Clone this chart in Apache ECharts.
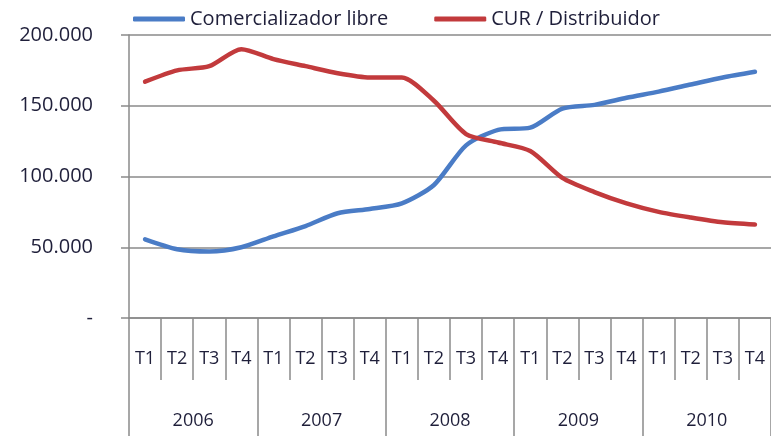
<!DOCTYPE html>
<html>
<head>
<meta charset="utf-8">
<script src="https://cdn.jsdelivr.net/npm/echarts@6/dist/echarts.min.js"></script>
<style>
  html, body { margin: 0; padding: 0; background: #fff; }
  #chart { width: 771px; height: 436px; }
</style>
</head>
<body>
<div id="chart"></div>
<script>
const years = ["2006", "2007", "2008", "2009", "2010"];
const quarters = ["T1", "T2", "T3", "T4"];
const categories = years.flatMap(y => quarters.map(q => q + " " + y));

const comercializador = [
  55600, 48600, 47000, 50000,
  57700, 65000, 74000, 77000,
  81000, 94000, 122000, 133000,
  134500, 148000, 150600, 155600,
  160000, 165000, 170000, 174000
];
const curDistribuidor = [
  167000, 175000, 178000, 190000,
  183000, 178000, 173000, 170000,
  170000, 153500, 130000, 124000,
  118000, 99000, 89000, 81000,
  75000, 71000, 67600, 66000
];

const FONT = "Open Sans";
const TEXT = "#1f1f3a";
const GRIDLINE = "#8a8a8a";

const chart = echarts.init(document.getElementById("chart"));

chart.setOption({
  animation: false,
  textStyle: { fontFamily: FONT },
  legend: {
    left: 128,
    top: 4,
    itemWidth: 52,
    itemHeight: 5,
    itemGap: 46,
    icon: "roundRect",
    textStyle: { fontFamily: FONT, fontSize: 20, color: TEXT },
    data: ["Comercializador libre", "CUR / Distribuidor"]
  },
  grid: { left: 129, right: -2, top: 35, bottom: 118 },
  xAxis: [
    {
      type: "category",
      data: categories,
      boundaryGap: true,
      axisLine: { show: true, lineStyle: { color: GRIDLINE, width: 1.5 } },
      axisTick: { show: true, interval: 0, length: 62, lineStyle: { color: GRIDLINE, width: 1.5 } },
      axisLabel: {
        interval: 0,
        margin: 32,
        fontSize: 18,
        color: TEXT,
        formatter: v => v.split(" ")[0]
      }
    },
    {
      type: "category",
      data: years,
      position: "bottom",
      boundaryGap: true,
      axisLine: { show: false },
      axisTick: { show: true, interval: 0, length: 120, lineStyle: { color: GRIDLINE, width: 1.5 } },
      axisLabel: { interval: 0, margin: 94, fontSize: 18, color: TEXT }
    }
  ],
  yAxis: {
    type: "value",
    min: 0,
    max: 200000,
    interval: 50000,
    axisLine: { show: true, lineStyle: { color: GRIDLINE, width: 1.5 } },
    axisTick: { show: true, length: 8, lineStyle: { color: GRIDLINE, width: 1.5 } },
    splitLine: { lineStyle: { color: GRIDLINE, width: 1.5 } },
    axisLabel: {
      margin: 36,
      fontSize: 20,
      color: TEXT,
      formatter: v => v === 0 ? "-" : v.toLocaleString("de-DE")
    }
  },
  series: [
    {
      name: "Comercializador libre",
      type: "line",
      xAxisIndex: 0,
      data: comercializador,
      smooth: 0.25,
      symbol: "none",
      lineStyle: { width: 4.5, color: "#4A7CC6", cap: "round" },
      itemStyle: { color: "#4A7CC6" }
    },
    {
      name: "CUR / Distribuidor",
      type: "line",
      xAxisIndex: 0,
      data: curDistribuidor,
      smooth: 0.25,
      symbol: "none",
      lineStyle: { width: 4.5, color: "#C23A3C", cap: "round" },
      itemStyle: { color: "#C23A3C" }
    }
  ]
});
</script>
</body>
</html>
